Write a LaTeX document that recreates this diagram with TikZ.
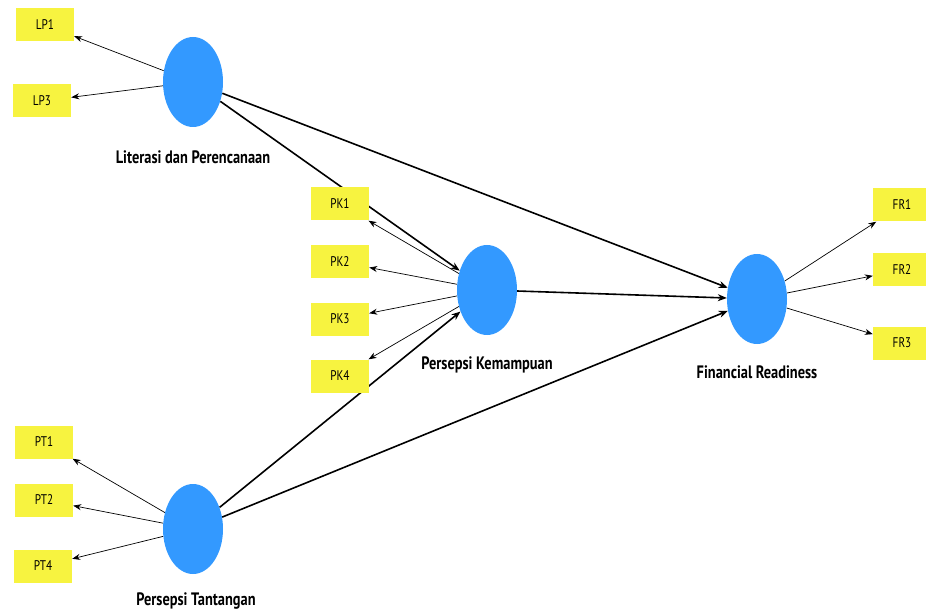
\documentclass[tikz,border=0pt]{standalone}
\usepackage{fontspec}
\setmainfont{PT Sans}[FakeStretch=0.8]
\usetikzlibrary{shapes.geometric,arrows.meta,backgrounds}
\definecolor{lvblue}{RGB}{51,153,255}
\definecolor{indyellow}{RGB}{247,243,64}

\begin{document}
\begin{tikzpicture}[x=1pt, y=-1pt,
   latent/.style={ellipse, fill=lvblue, minimum width=60pt, minimum height=90pt, inner sep=0pt},
   indicator/.style={fill=indyellow, minimum width=58pt, minimum height=33pt, inner sep=0pt, font=\fontsize{14}{14}\selectfont},
   lvlabel/.style={font=\fontsize{18}{18}\selectfont\bfseries},
   loading/.style={-{Stealth[length=8pt,width=6pt]}, line width=0.7pt},
   structural/.style={-{Stealth[length=9pt,width=7pt]}, line width=1.6pt}]
   \clip (0,0) rectangle (926,612);
   % latent variables
   \node[latent] (LP) at (193,82) {};
   \node[latent] (PK) at (487,290) {};
   \node[latent] (FR) at (757,299) {};
   \node[latent] (PT) at (193,529) {};
   \node[lvlabel] (LPlab) at (193,157) {Literasi dan Perencanaan};
   \node[lvlabel] (PKlab) at (487,365) {Persepsi Kemampuan};
   \node[lvlabel] (FRlab) at (757,372) {Financial Readiness};
   \node[lvlabel] (PTlab) at (196,601) {Persepsi Tantangan};
   % indicators
   \node[indicator] (LP1) at (45,25) {LP1};
   \node[indicator] (LP3) at (42,101) {LP3};
   \node[indicator] (PK1) at (340,204) {PK1};
   \node[indicator] (PK2) at (340,262) {PK2};
   \node[indicator] (PK3) at (340,319) {PK3};
   \node[indicator] (PK4) at (340,376) {PK4};
   \node[indicator] (FR1) at (902,205) {FR1};
   \node[indicator] (FR2) at (902,270) {FR2};
   \node[indicator] (FR3) at (902,343) {FR3};
   \node[indicator] (PT1) at (44,442) {PT1};
   \node[indicator] (PT2) at (44,500) {PT2};
   \node[indicator] (PT4) at (43,566) {PT4};
   \begin{pgfonlayer}{background}
   % outer model
   \foreach \ind in {LP1,LP3} \draw[loading] (LP) -- (\ind);
   \foreach \ind in {PK1,PK2,PK3,PK4} \draw[loading] (PK) -- (\ind);
   \foreach \ind in {FR1,FR2,FR3} \draw[loading] (FR) -- (\ind);
   \foreach \ind in {PT1,PT2,PT4} \draw[loading] (PT) -- (\ind);
   % inner model
   \draw[structural] (LP) -- (PK);
   \draw[structural] (LP) -- (FR);
   \draw[structural] (PK) -- (FR);
   \draw[structural] (PT) -- (PK);
   \draw[structural] (PT) -- (FR);
   \end{pgfonlayer}
\end{tikzpicture}
\end{document}
